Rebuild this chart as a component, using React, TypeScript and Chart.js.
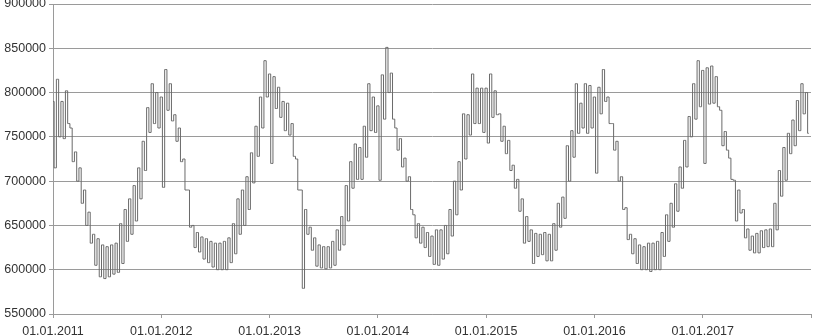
import React, { useEffect, useRef } from 'react';
import { Chart, registerables } from 'chart.js';

Chart.register(...registerables);

// X-axis: one tick per year start; the last tick (01.01.2018) has no label in the original
const yearLabels = [
  '01.01.2011', '01.01.2012', '01.01.2013', '01.01.2014',
  '01.01.2015', '01.01.2016', '01.01.2017',
];
const yearTickCount = 8;
const periodsPerYear = 24; // half-month periods

// Upper envelope of each half-month period (thousands)
const highK = [
  790, 815, 790, 802, 760, 733, 715, 690, 665, 640, 635, 628, 626, 628, 630, 652, 668, 680, 695, 715, 745, 783, 810, 800, // 2011
  795, 826, 810, 775, 760, 725, 690, 650, 642, 637, 635, 632, 630, 630, 632, 636, 652, 680, 690, 705, 732, 762, 795, 836, // 2012
  821, 818, 806, 790, 788, 765, 725, 690, 668, 648, 636, 628, 626, 626, 632, 645, 660, 695, 722, 742, 738, 762, 810, 795, // 2013
  785, 820, 851, 822, 760, 748, 726, 705, 662, 652, 648, 642, 638, 645, 645, 650, 668, 700, 722, 776, 775, 821, 805, 805, // 2014
  805, 821, 802, 776, 762, 746, 718, 702, 680, 660, 645, 641, 640, 642, 640, 652, 675, 682, 740, 757, 810, 788, 810, 808, // 2015
  795, 806, 826, 795, 765, 745, 705, 670, 640, 635, 628, 626, 630, 630, 632, 642, 662, 675, 697, 716, 746, 773, 810, 836, // 2016
  825, 828, 830, 818, 780, 756, 726, 701, 690, 668, 646, 638, 641, 644, 645, 646, 675, 712, 738, 754, 769, 791, 810, 800, // 2017
];

// Lower envelope of each half-month period (thousands)
const lowK = [
  715, 750, 748, 765, 722, 700, 675, 650, 630, 605, 592, 590, 592, 595, 597, 607, 632, 640, 655, 680, 712, 755, 765, 760, // 2011
  693, 780, 768, 745, 722, 690, 648, 625, 620, 612, 608, 603, 600, 600, 600, 608, 618, 640, 650, 668, 698, 728, 760, 795, // 2012
  720, 782, 772, 757, 752, 728, 690, 579, 640, 622, 604, 602, 601, 602, 605, 622, 628, 655, 692, 702, 702, 727, 757, 755, // 2013
  701, 770, 800, 770, 735, 716, 700, 668, 636, 630, 625, 615, 606, 605, 612, 618, 638, 662, 690, 725, 752, 765, 765, 755, // 2014
  743, 772, 775, 745, 731, 712, 692, 666, 630, 632, 607, 615, 617, 610, 610, 622, 648, 658, 700, 727, 754, 760, 754, 760, // 2015
  709, 776, 790, 765, 735, 700, 668, 634, 618, 607, 600, 600, 598, 600, 600, 615, 632, 648, 666, 692, 716, 750, 770, 784, // 2016
  720, 787, 788, 784, 740, 735, 702, 655, 664, 636, 622, 619, 619, 625, 626, 626, 645, 683, 701, 731, 740, 757, 776, 754, // 2017
];

const yMin = 550000;
const yMax = 900000;
const yStep = 50000;

const FONT = { family: '"Liberation Sans", Arial, sans-serif', size: 12.5 };
const TEXT = '#333333';
const GRID = '#9a9a9a';

export default function App() {
  const ref = useRef<HTMLCanvasElement>(null);

  useEffect(() => {
    const slotsPerYear = periodsPerYear * 2;
    const pts: { x: number; y: number }[] = [];
    highK.forEach((h, i) => {
      pts.push({ x: 2 * i, y: h * 1000 });
      pts.push({ x: 2 * i + 1, y: lowK[i] * 1000 });
    });

    const chart = new Chart(ref.current as HTMLCanvasElement, {
      type: 'line',
      data: {
        datasets: [
          {
            data: pts,
            borderColor: '#6a6a6a',
            borderWidth: 1,
            pointRadius: 0,
            stepped: 'middle',
            fill: false,
          },
        ],
      },
      options: {
        animation: false,
        responsive: false,
        maintainAspectRatio: false,
        layout: { padding: { top: 4, right: 3, left: 0, bottom: 0 } },
        plugins: { legend: { display: false }, tooltip: { enabled: false } },
        scales: {
          x: {
            type: 'linear',
            min: 0,
            max: slotsPerYear * (yearTickCount - 1),
            afterBuildTicks: (s: any) => {
              s.ticks = Array.from({ length: yearTickCount }, (_, k) => ({ value: k * slotsPerYear }));
            },
            ticks: {
              autoSkip: false,
              maxRotation: 0,
              padding: 6,
              font: FONT,
              color: TEXT,
              callback: (_v: any, i: number) => yearLabels[i] ?? '',
            },
            grid: { drawOnChartArea: false, drawTicks: true, tickLength: 4, color: GRID },
            border: { color: GRID },
            afterFit: (s: any) => {
              s.height = 22;
              s.paddingLeft = 0;
              s.paddingRight = 0;
            },
          },
          y: {
            min: yMin,
            max: yMax,
            ticks: {
              stepSize: yStep,
              padding: 3,
              font: FONT,
              color: TEXT,
              callback: (v: any) => String(v),
            },
            grid: { color: GRID, tickLength: 4 },
            border: { color: GRID },
            afterFit: (s: any) => {
              s.width = 53;
              s.paddingTop = 0;
              s.paddingBottom = 0;
            },
          },
        },
      },
    });
    return () => chart.destroy();
  }, []);

  return (
    <div style={{ position: 'fixed', left: 0, top: 0, width: 814, height: 336, background: '#fff' }}>
      <canvas ref={ref} width={814} height={336} style={{ display: 'block' }} />
    </div>
  );
}
